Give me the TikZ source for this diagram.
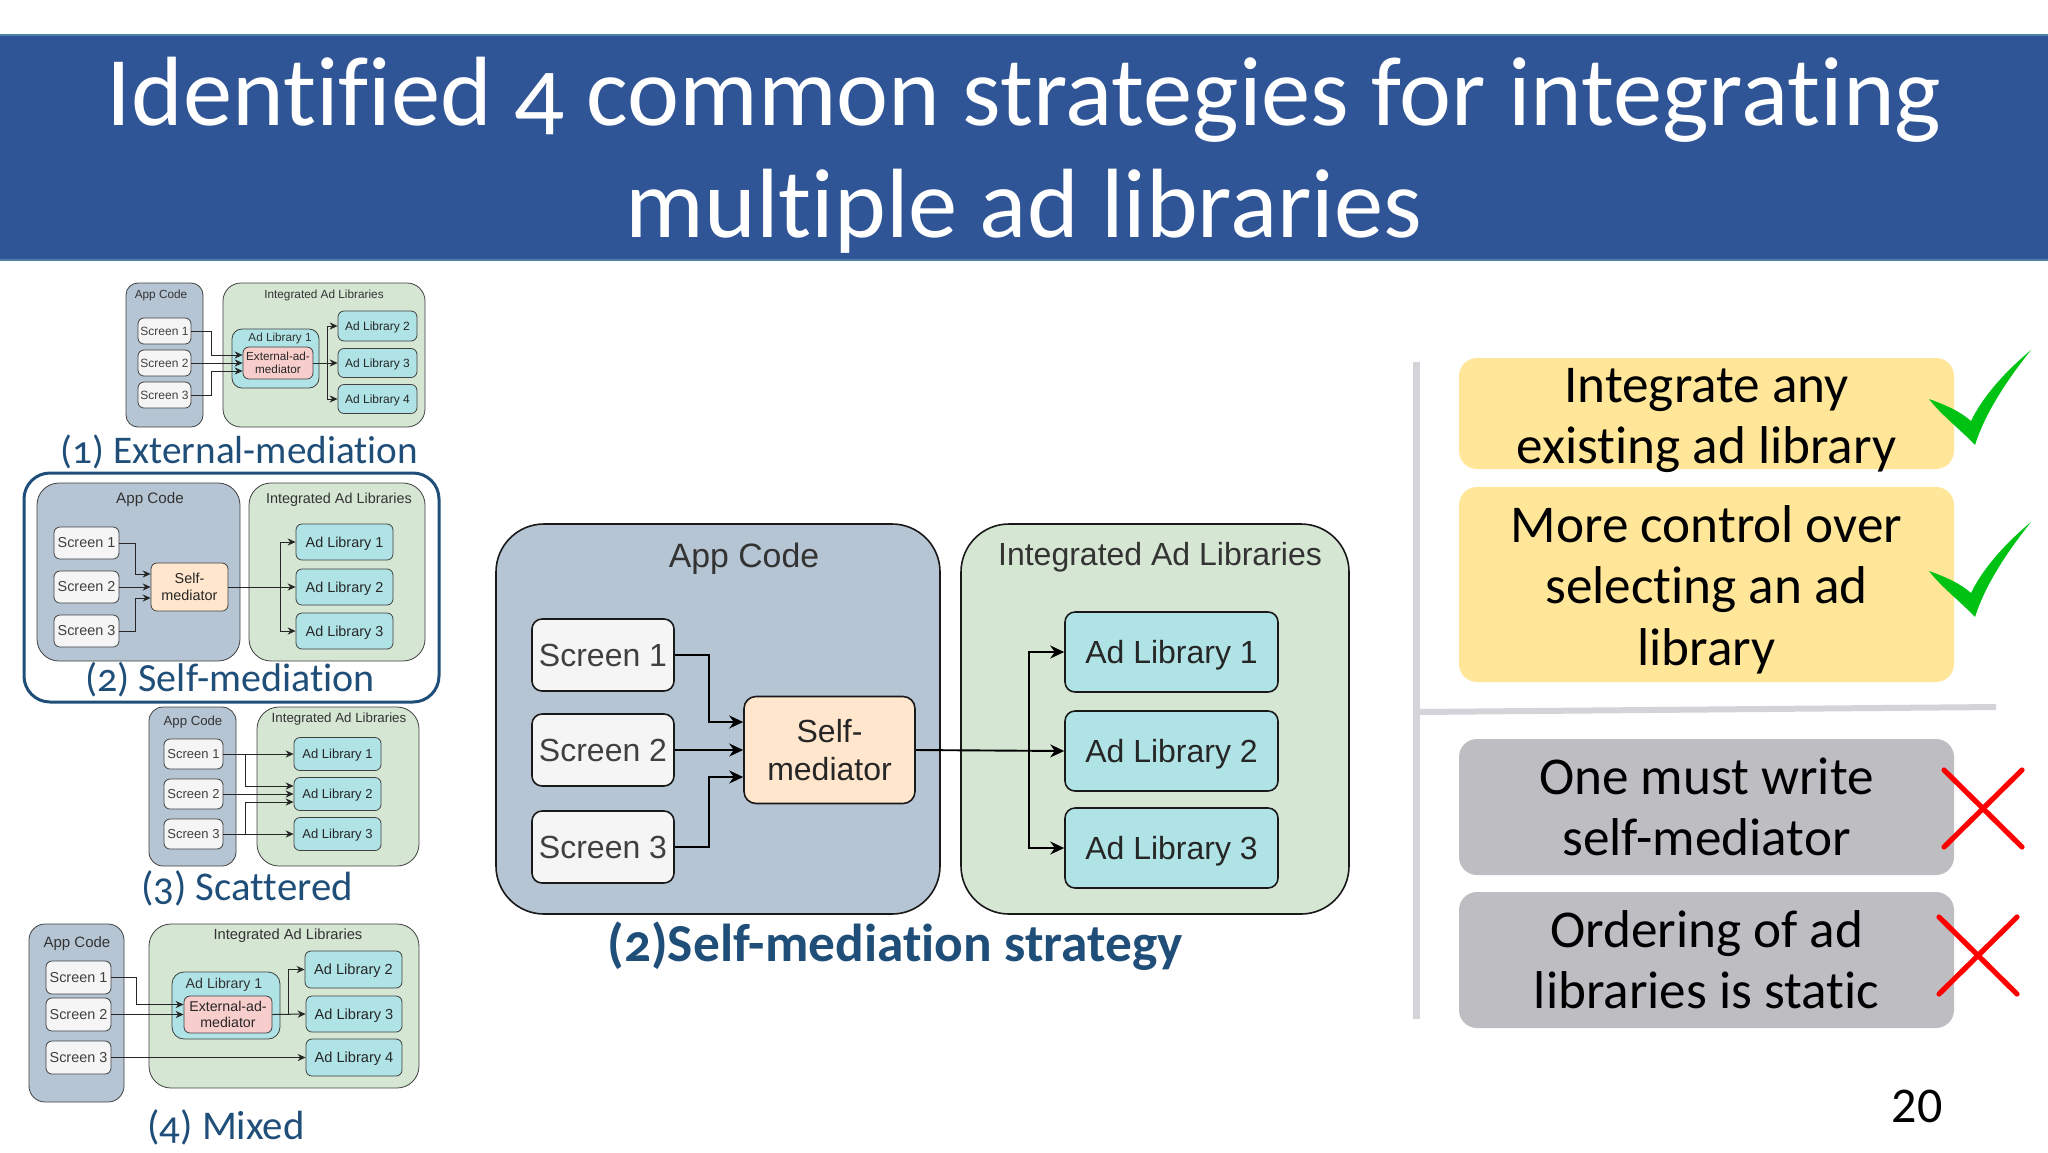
\documentclass[tikz,border=0pt]{standalone}
\usepackage{fontspec}
\usetikzlibrary{arrows.meta}
\setmainfont[Numbers=OldStyle,Ligatures=NoCommon]{Carlito}
\setsansfont{Liberation Sans}
\definecolor{bandblue}{HTML}{2F5597}
\definecolor{bandedge}{HTML}{4F81A8}
\definecolor{labelblue}{HTML}{1F4E79}
\definecolor{appfill}{HTML}{B6C5D4}
\definecolor{libfill}{HTML}{D5E6D3}
\definecolor{adfill}{HTML}{B0E3E6}
\definecolor{extfill}{HTML}{F8CECC}
\definecolor{selffill}{HTML}{FFE6CC}
\definecolor{scrfill}{HTML}{F5F5F5}
\definecolor{prosfill}{HTML}{FFE699}
\definecolor{consfill}{HTML}{BEBDC1}
\definecolor{rulegray}{HTML}{D4D3D8}
\definecolor{tickgreen}{HTML}{00C213}
\begin{document}
\begin{tikzpicture}[x=.5pt,y=-.5pt]
\tikzset{
wh/.style 2 args={minimum width=#1*.5pt,minimum height=#2*.5pt},
base/.style={draw=black!75,rounded corners=3pt,inner sep=0pt,align=center,font=\sffamily},
app/.style={base,fill=appfill,rounded corners=10pt},
lib/.style={base,fill=libfill,rounded corners=10pt},
screen/.style={base,fill=scrfill,text=black!75},
adlib/.style={base,fill=adfill,text=black!85,text depth=0pt},
ext/.style={base,fill=extfill,text=black!85},
self/.style={base,fill=selffill,text=black!85},
head/.style={font=\sffamily,text=black!80,inner sep=0pt,text depth=0pt},
caption/.style={font=\fontsize{20.4}{20}\selectfont,text=labelblue,inner sep=0pt},
pros/.style={fill=prosfill,rounded corners=9pt,inner sep=0pt},
cons/.style={fill=consfill,rounded corners=9pt,inner sep=0pt},
point/.style={font=\fontsize{26.6}{30.7}\selectfont,align=center,inner sep=0pt,text=black},
tick/.style={fill=tickgreen,draw=none},
cross/.style={draw=red,line width=2.6pt,line cap=round},
wire/.style={draw=black!85,line width=.5pt,>={Stealth[length=4pt,width=3.6pt]}},
bigwire/.style={draw=black,line width=.95pt,>={Stealth[length=7pt,width=6.5pt]}},
bigline/.style={draw=black!90,line width=.8pt},
}
\useasboundingbox (0,0) rectangle (2048,1152);
% title band
\node[fill=bandblue,draw=bandedge,line width=.6pt,wh={2050}{225},inner sep=0pt] (band) at (1024,147.5) {};
\node[font=\fontsize{49.25}{56}\selectfont,text=white,align=center,inner sep=0pt] (title) at (1024,155) {Identified 4 common strategies for integrating\\multiple ad libraries};
% (1) external mediation
\node[app,wh={77}{144},rounded corners=6pt] (aApp) at (164.5,355) {};
\node[lib,wh={202}{144},rounded corners=9pt] (aLib) at (324,355) {};
\node[head,font=\sffamily\fontsize{5.9}{6}\selectfont] (aAppT) at (161,294) {App Code};
\node[head,font=\sffamily\fontsize{5.9}{6}\selectfont] (aLibT) at (324,294) {Integrated Ad Libraries};
\foreach \n/\y in {1/331,2/363,3/395} \node[screen,wh={53}{26},font=\sffamily\fontsize{6}{6}\selectfont] (aS\n) at (164.5,\y) {Screen \n};
\node[adlib,wh={87}{59},rounded corners=5pt] (aA1) at (275.5,358.5) {};
\node[head,font=\sffamily\fontsize{5.85}{6}\selectfont] (aA1T) at (280,337) {Ad Library 1};
\node[ext,wh={70}{32},font=\sffamily\fontsize{5.85}{6.6}\selectfont] (aMed) at (278,363) {External-ad-\\mediator};
\node[adlib,wh={79}{30},font=\sffamily\fontsize{6}{6}\selectfont] (aA2) at (377.5,326) {Ad Library 2};
\node[adlib,wh={79}{29},font=\sffamily\fontsize{6}{6}\selectfont] (aA3) at (377.5,363) {Ad Library 3};
\node[adlib,wh={79}{29},font=\sffamily\fontsize{6}{6}\selectfont] (aA4) at (377.5,399) {Ad Library 4};
\path[wire,->] (aS1.east) -- (211,331) |- ([yshift=4pt]aMed.west);
\path[wire,->] (aS2.east) -- (aMed.west);
\path[wire,->] (aS3.east) -- (211,395) |- ([yshift=-4pt]aMed.west);
\path[wire,->] (aMed.east) -- (aA3.west);
\path[wire,->] (327,363) |- (aA2.west);
\path[wire,->] (327,363) |- (aA4.west);
\node[caption,font=\fontsize{19.6}{20}\selectfont] (aCap) at (239.5,452) {(1) External-mediation};
% (2) self mediation
\node[draw=labelblue,line width=1.5pt,rounded corners=13pt,wh={415}{229}] (bFrame) at (231.5,587.5) {};
\node[app,wh={203}{178},rounded corners=11pt] (bApp) at (138.5,572) {};
\node[lib,wh={176}{178},rounded corners=11pt] (bLib) at (337,572) {};
\node[head,font=\sffamily\fontsize{7.6}{8}\selectfont] (bAppT) at (150,498) {App Code};
\node[head,font=\sffamily\fontsize{7.2}{8}\selectfont] (bLibT) at (339,498) {Integrated Ad Libraries};
\foreach \n/\y in {1/543,2/587,3/631} \node[screen,wh={65}{32},font=\sffamily\fontsize{7.2}{8}\selectfont] (bS\n) at (86.5,\y) {Screen \n};
\node[self,wh={77}{48},font=\sffamily\fontsize{7.2}{8.6}\selectfont] (bMed) at (189.5,587) {Self-\\mediator};
\foreach \n/\y in {1/542,2/587,3/631} \node[adlib,wh={97}{36},font=\sffamily\fontsize{7.2}{8}\selectfont] (bA\n) at (344.5,\y) {Ad Library \n};
\path[wire,->] (bS1.east) -- (135,543) |- ([yshift=6.5pt]bMed.west);
\path[wire,->] (bS2.east) -- (bMed.west);
\path[wire,->] (bS3.east) -- (135,631) |- ([yshift=-5.5pt]bMed.west);
\path[wire,->] (bMed.east) -- (bA2.west);
\path[wire,->] (280,587) |- (bA1.west);
\path[wire,->] (280,587) |- (bA3.west);
\node[caption,font=\fontsize{20}{20}\selectfont] (bCap) at (230,680) {(2) Self-mediation};
% (3) scattered
\node[app,wh={87}{159},rounded corners=7pt] (cApp) at (192.5,786.5) {};
\node[lib,wh={162}{159},rounded corners=11pt] (cLib) at (338,786.5) {};
\node[head,font=\sffamily\fontsize{6.6}{7}\selectfont] (cAppT) at (193,721) {App Code};
\node[head,font=\sffamily\fontsize{6.65}{7}\selectfont] (cLibT) at (339,718) {Integrated Ad Libraries};
\foreach \n/\y in {1/754,2/794,3/834} \node[screen,wh={59}{30},font=\sffamily\fontsize{6.5}{7}\selectfont] (cS\n) at (193.5,\y) {Screen \n};
\foreach \n/\y in {1/754,2/794,3/834} \node[adlib,wh={87}{33},font=\sffamily\fontsize{6.5}{7}\selectfont] (cA\n) at (337.5,\y) {Ad Library \n};
\path[wire,->] (cS1.east) -- (cA1.west);
\path[wire,->] (245,754) |- ([yshift=4pt]cA2.west);
\path[wire,->] (cS2.east) -- (cA2.west);
\path[wire,->] (cS3.east) -- (cA3.west);
\path[wire,->] (245,834) |- ([yshift=-4pt]cA2.west);
\node[caption] (cCap) at (247,888) {(3) Scattered};
% (4) mixed
\node[app,wh={95}{178},rounded corners=8pt] (dApp) at (76.5,1013) {};
\node[lib,wh={270}{164},rounded corners=11pt] (dLib) at (284,1006) {};
\node[head,font=\sffamily\fontsize{7.5}{8}\selectfont] (dAppT) at (77,942) {App Code};
\node[head,font=\sffamily\fontsize{7.35}{8}\selectfont] (dLibT) at (288,934) {Integrated Ad Libraries};
\foreach \n/\y in {1/977.5,2/1014.5,3/1057.5} \node[screen,wh={65}{33},font=\sffamily\fontsize{7.2}{8}\selectfont] (dS\n) at (78.5,\y) {Screen \n};
\node[adlib,wh={108}{67},rounded corners=6pt] (dA1) at (226,1005.5) {};
\node[head,font=\sffamily\fontsize{7.1}{8}\selectfont] (dA1T) at (224,983) {Ad Library 1};
\node[ext,wh={88}{37},font=\sffamily\fontsize{7.1}{8.3}\selectfont] (dMed) at (228,1014.5) {External-ad-\\mediator};
\node[adlib,wh={97}{37},font=\sffamily\fontsize{7.3}{8}\selectfont] (dA2) at (353.5,969.5) {Ad Library 2};
\node[adlib,wh={96}{36},font=\sffamily\fontsize{7.3}{8}\selectfont] (dA3) at (354,1014) {Ad Library 3};
\node[adlib,wh={96}{37},font=\sffamily\fontsize{7.3}{8}\selectfont] (dA4) at (354,1057.5) {Ad Library 4};
\path[wire,->] (dS1.east) -- (136,977.5) |- ([yshift=5pt]dMed.west);
\path[wire,->] (dS2.east) -- (dMed.west);
\path[wire,->] (dS3.east) -- (dA4.west);
\path[wire,->] (dMed.east) -- (dA3.west);
\path[wire,->] (288,1014) |- (dA2.west);
\node[caption] (dCap) at (226,1127) {(4) Mixed};
% big diagram in the middle
\node[app,bigline,wh={444}{390},rounded corners=24pt] (eApp) at (718,719) {};
\node[lib,bigline,wh={388}{390},rounded corners=24pt] (eLib) at (1155,719) {};
\node[head,font=\sffamily\fontsize{16.9}{18}\selectfont] (eAppT) at (744,555) {App Code};
\node[head,font=\sffamily\fontsize{16}{18}\selectfont] (eLibT) at (1160,554) {Integrated Ad Libraries};
\foreach \n/\y in {1/655,2/750,3/847} \node[screen,bigline,wh={142}{72},rounded corners=5pt,font=\sffamily\fontsize{16}{18}\selectfont] (eS\n) at (603,\y) {Screen \n};
\node[self,bigline,wh={171}{107},rounded corners=6pt,font=\sffamily\fontsize{16}{19}\selectfont] (eMed) at (829.5,750) {Self-\\mediator};
\foreach \n/\y in {1/652,2/751,3/848} \node[adlib,bigline,wh={213}{80},rounded corners=5pt,font=\sffamily\fontsize{16}{18}\selectfont] (eA\n) at (1171.5,\y) {Ad Library \n};
\path[bigwire,->] (eS1.east) -- (709,655) |- ([yshift=14pt]eMed.west);
\path[bigwire,->] (eS2.east) -- (eMed.west);
\path[bigwire,->] (eS3.east) -- (709,847) |- ([yshift=-13.5pt]eMed.west);
\path[bigwire,->] (eMed.east) -- (eA2.west);
\path[bigwire,->] (1029,750) |- (eA1.west);
\path[bigwire,->] (1029,750) |- (eA3.west);
\node[caption,font=\bfseries\fontsize{26.7}{28}\selectfont] (eCap) at (895,946) {(2)Self-mediation strategy};
% right column
\draw[rulegray,line width=3.5pt] (1416,362) -- (1416,1019);
\draw[rulegray,line width=3pt] (1416,712) -- (1996,707);
\node[pros,wh={495}{111}] (p1) at (1706.5,413.5) {};
\node[pros,wh={495}{195}] (p2) at (1706.5,584.5) {};
\node[cons,wh={495}{136}] (c1) at (1706.5,807) {};
\node[cons,wh={495}{136}] (c2) at (1706.5,960) {};
\node[point] (p1T) at (1706.5,420.5) {Integrate any\\existing ad library};
\node[point] (p2T) at (1706.5,589.5) {More control over\\selecting an ad\\library};
\node[point] (c1T) at (c1) {One must write\\self-mediator};
\node[point] (c2T) at (c2) {Ordering of ad\\libraries is static};
\foreach \dy in {0,172}
\fill[tick,yshift=-\dy*.5pt,xshift=-2pt] (1933,399) .. controls (1950,405) and (1965,412) .. (1975,421) .. controls (1985,400) and (2005,375) .. (2035,350) .. controls (2015,375) and (1990,410) .. (1979,445) .. controls (1965,430) and (1945,415) .. (1933,399) -- cycle;
\draw[cross] (1944,770) -- (2022,847);
\draw[cross] (2022,770) -- (1944,847);
\draw[cross] (1939,917) -- (2017,994);
\draw[cross] (2017,917) -- (1939,994);
\node[font=\fontsize{25}{28}\selectfont\addfontfeature{Numbers=Lining},inner sep=0pt] (page) at (1917,1106) {20};
\end{tikzpicture}
\end{document}
